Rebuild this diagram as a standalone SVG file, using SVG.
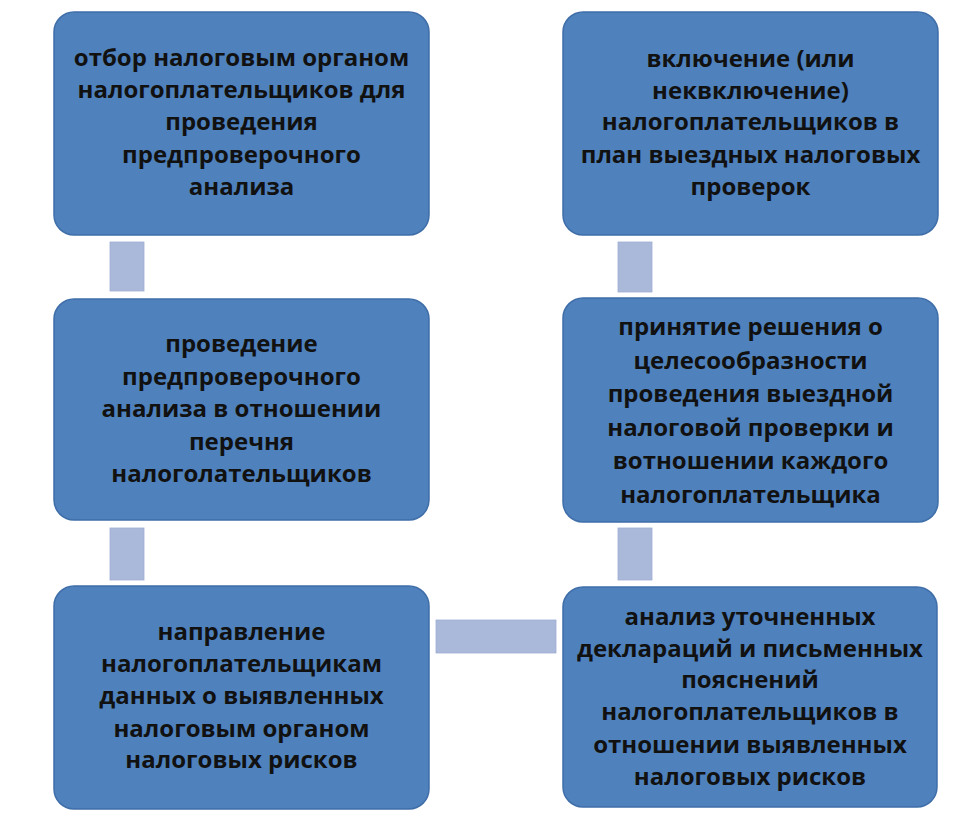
<svg xmlns="http://www.w3.org/2000/svg" width="960" height="814" viewBox="0 0 960 814">
<style>
.box{fill:#4F81BD;stroke:#3F6EA8;stroke-width:1.5}
.conn{fill:#AAB9DA;stroke:#9DADD2;stroke-width:0.8}
.t{font-family:"Open Sans","DejaVu Sans",sans-serif;font-weight:bold;font-size:24px;fill:#111;text-anchor:middle}
</style>
<rect width="960" height="814" fill="#ffffff"/>
<g id="connectors">
<rect class="conn" x="110" y="242" width="34" height="49"/>
<rect class="conn" x="618" y="242" width="34" height="50"/>
<rect class="conn" x="110" y="528" width="34" height="52"/>
<rect class="conn" x="618" y="528" width="34" height="52"/>
<rect class="conn" x="436" y="620" width="120" height="33"/>
</g>
<g id="node1">
<rect class="box" x="54" y="12" width="375" height="223" rx="20"/>
<text class="t" x="241.5" y="66">отбор налоговым органом</text>
<text class="t" x="241.5" y="98">налогоплательщиков для</text>
<text class="t" x="241.5" y="130">проведения</text>
<text class="t" x="241.5" y="163">предпроверочного</text>
<text class="t" x="241.5" y="195">анализа</text>
</g>
<g id="node2">
<rect class="box" x="54" y="299" width="375" height="221" rx="20"/>
<text class="t" x="241.5" y="352">проведение</text>
<text class="t" x="241.5" y="385">предпроверочного</text>
<text class="t" x="241.5" y="417">анализа в отношении</text>
<text class="t" x="241.5" y="450">перечня</text>
<text class="t" x="241.5" y="482">налоголательщиков</text>
</g>
<g id="node3">
<rect class="box" x="54" y="586" width="375" height="223" rx="20"/>
<text class="t" x="241.5" y="640">направление</text>
<text class="t" x="241.5" y="672">налогоплательщикам</text>
<text class="t" x="241.5" y="704">данных о выявленных</text>
<text class="t" x="241.5" y="737">налоговым органом</text>
<text class="t" x="241.5" y="768">налоговых рисков</text>
</g>
<g id="node4">
<rect class="box" x="563" y="587" width="374" height="220" rx="20"/>
<text class="t" x="750" y="625">анализ уточненных</text>
<text class="t" x="750" y="657">деклараций и письменных</text>
<text class="t" x="750" y="688">пояснений</text>
<text class="t" x="750" y="720">налогоплательщиков в</text>
<text class="t" x="750" y="753">отношении выявленных</text>
<text class="t" x="750" y="785">налоговых рисков</text>
</g>
<g id="node5">
<rect class="box" x="563" y="298" width="375" height="224" rx="20"/>
<text class="t" x="750.5" y="335">принятие решения о</text>
<text class="t" x="750.5" y="369">целесообразности</text>
<text class="t" x="750.5" y="402">проведения выездной</text>
<text class="t" x="750.5" y="436">налоговой проверки и</text>
<text class="t" x="750.5" y="469">вотношении каждого</text>
<text class="t" x="750.5" y="503">налогоплательщика</text>
</g>
<g id="node6">
<rect class="box" x="563" y="12" width="375" height="223" rx="20"/>
<text class="t" x="750.5" y="67">включение (или</text>
<text class="t" x="750.5" y="99">неквключение)</text>
<text class="t" x="750.5" y="130">налогоплательщиков в</text>
<text class="t" x="750.5" y="163">план выездных налоговых</text>
<text class="t" x="750.5" y="195">проверок</text>
</g>
</svg>
